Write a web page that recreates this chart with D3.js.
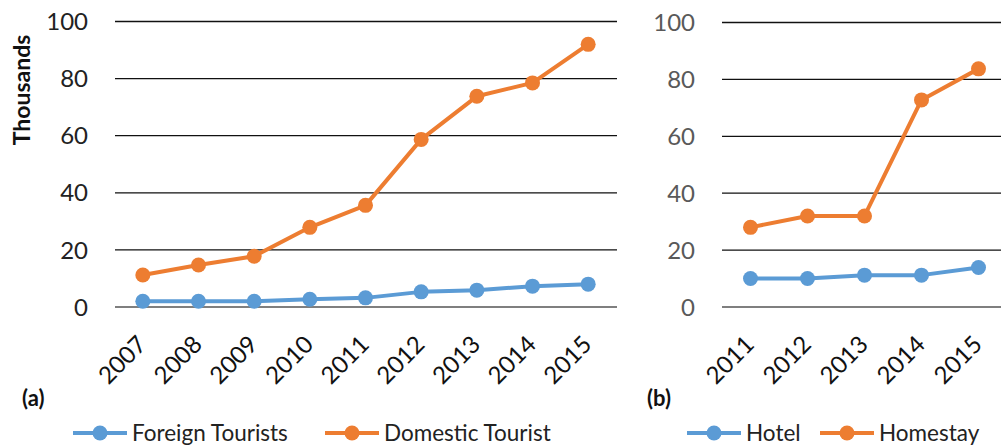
<!DOCTYPE html>
<html><head><meta charset="utf-8">
<script src="https://cdn.jsdelivr.net/npm/d3@7"></script>
<style>
body{margin:0;background:#fff;}
svg{display:block;font-family:Lato,"Open Sans",sans-serif;}
</style></head>
<body><svg id="c" width="1001" height="447"></svg>
<script>
const yearsA = ["2007","2008","2009","2010","2011","2012","2013","2014","2015"];
const foreignTourists = [2.0,2.0,2.0,2.7,3.2,5.3,5.9,7.3,8.0];
const domesticTourist = [11.2,14.7,17.8,27.9,35.6,58.7,73.8,78.5,92.0];
const yearsB = ["2011","2012","2013","2014","2015"];
const hotel = [10.0,10.0,11.2,11.2,13.9];
const homestay = [28.0,32.0,32.0,72.8,83.7];
const yTicks = [0,20,40,60,80,100];

const BLUE="#5B9BD5", ORANGE="#ED7D31";
const svg = d3.select("#c");

function panel(cfg){
  const g = svg.append("g");
  const x = d3.scaleBand().domain(cfg.cats).range([cfg.x0,cfg.x1]);
  const y = d3.scaleLinear().domain([0,100]).range([cfg.yb,cfg.yt]);
  g.selectAll("line.grid").data(yTicks).join("line")
    .attr("x1",cfg.x0).attr("x2",cfg.gridEnd)
    .attr("y1",d=>y(d)).attr("y2",d=>y(d))
    .attr("stroke", d=> d===0 ? "#555" : "#111").attr("stroke-width",1.3);
  g.selectAll("text.yt").data(yTicks).join("text")
    .attr("x",cfg.x0-27).attr("y",d=>y(d)).attr("dy","0.36em")
    .attr("text-anchor","end").attr("font-size",24).attr("fill",cfg.tickColor)
    .text(d=>d);
  g.selectAll("text.xt").data(cfg.cats).join("text")
    .attr("transform",d=>`translate(${x(d)+x.bandwidth()/2+5},${cfg.yb+39}) rotate(-45)`)
    .attr("text-anchor","end").attr("font-size",24).attr("fill","#111")
    .text(d=>d);
  const line = d3.line().x((d,i)=>x(cfg.cats[i])+x.bandwidth()/2).y(d=>y(d));
  cfg.series.forEach(s=>{
    g.append("path").datum(s.values).attr("d",line).attr("fill","none")
      .attr("stroke",s.color).attr("stroke-width",4).attr("stroke-linejoin","round");
    g.selectAll(null).data(s.values).join("circle")
      .attr("cx",(d,i)=>x(cfg.cats[i])+x.bandwidth()/2).attr("cy",d=>y(d))
      .attr("r",7.5).attr("fill",s.color);
  });
  g.append("text").attr("x",cfg.labelX).attr("y",406).attr("font-size",22)
    .attr("font-weight","bold").attr("fill","#111").text(cfg.label);
  cfg.series.forEach(s=>{
    const lg = g.append("g");
    lg.append("line").attr("x1",s.lx).attr("x2",s.lx+54).attr("y1",433).attr("y2",433)
      .attr("stroke",s.color).attr("stroke-width",4);
    lg.append("circle").attr("cx",s.lx+27).attr("cy",433).attr("r",7.5).attr("fill",s.color);
    lg.append("text").attr("x",s.lx+59).attr("y",433).attr("dy","0.36em")
      .attr("font-size",22.5).attr("fill","#222").text(s.name);
  });
}

panel({cats:yearsA,x0:115,x1:616,gridEnd:617,yb:307,yt:21.5,tickColor:"#222",
  label:"(a)",labelX:22,
  series:[{name:"Foreign Tourists",values:foreignTourists,color:BLUE,lx:73},
          {name:"Domestic Tourist",values:domesticTourist,color:ORANGE,lx:325}]});
panel({cats:yearsB,x0:722,x1:1007,gridEnd:1001,yb:307,yt:22.5,tickColor:"#595959",
  label:"(b)",labelX:647,
  series:[{name:"Hotel",values:hotel,color:BLUE,lx:687},
          {name:"Homestay",values:homestay,color:ORANGE,lx:820}]});

svg.append("text").attr("transform","translate(30,90) rotate(-90)")
  .attr("text-anchor","middle").attr("font-size",23).attr("font-weight","bold")
  .attr("fill","#111").text("Thousands");
</script></body></html>
